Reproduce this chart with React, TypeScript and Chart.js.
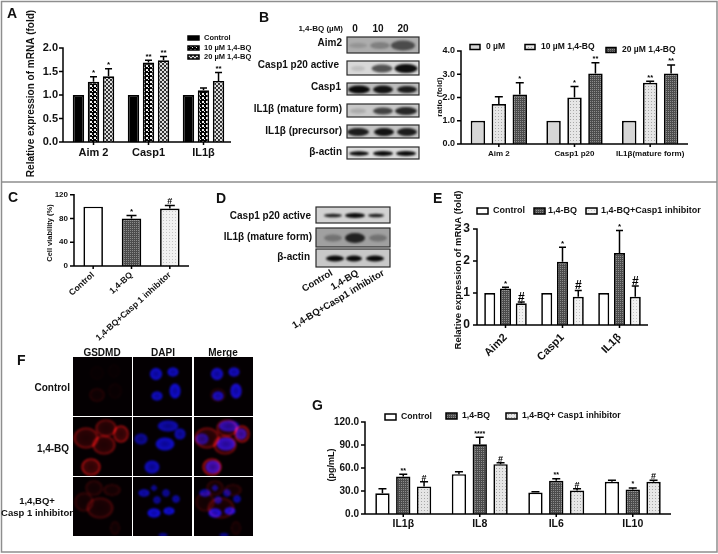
import React, { useEffect, useRef } from "react";
import { Chart, registerables } from "chart.js";
Chart.register(...registerables);

const FONT = "'Liberation Sans', Arial, sans-serif";

// Panel A
const aCategories = ["Aim 2", "Casp1", "IL1β"];
const aControl = [1, 1, 1];
const a10 = [1.28, 1.69, 1.1];
const a20 = [1.4, 1.74, 1.3];
const a10Top = [1.39, 1.74, 1.15];
const a20Top = [1.56, 1.82, 1.48];
const a10Marks = ["*", "**", ""];
const a20Marks = ["*", "**", "**"];

// Panel B chart
const bCategories = ["Aim 2", "Casp1 p20", "IL1β(mature form)"];
const b0 = [1, 1, 1];
const b10 = [1.72, 2.0, 2.63];
const b20 = [2.13, 3.03, 3.03];
const b10Top = [2.03, 2.47, 2.7];
const b20Top = [2.63, 3.5, 3.4];
const b10Marks = ["", "*", "**"];
const b20Marks = ["*", "**", "**"];

// Panel C
const cCategories = ["Control", "1,4-BQ", "1,4-BQ+Casp 1 inhibitor"];
const cValues = [100, 80, 97];
const cTops = [100, 85, 102];
const cMarks = ["", "*", "#"];

// Panel E
const eCategories = ["Aim2", "Casp1", "IL1β"];
const eControl = [1, 1, 1];
const eBQ = [1.14, 1.98, 2.25];
const eInh = [0.68, 0.88, 0.88];
const eBQTop = [1.18, 2.43, 2.95];
const eInhTop = [0.72, 1.08, 1.22];
const eBQMarks = ["*", "*", "*"];
const eInhMarks = ["#", "#", "#"];

// Panel G
const gCategories = ["IL1β", "IL8", "IL6", "IL10"];
const gControl = [27, 52, 28, 42];
const gBQ = [49, 91, 43.5, 32];
const gInh = [36, 65, 30.5, 42];
const gControlTop = [33, 55, 29, 44];
const gBQTop = [52, 100, 46, 34];
const gInhTop = [42, 67, 33, 44];
const gBQMarks = ["**", "****", "**", "*"];
const gInhMarks = ["#", "#", "#", "#"];

// Blots: box and bands [cx, width, height, darkness]
type Blot = { x: number; y: number; w: number; h: number; bg: string; bands: number[][] };
const blotsB: Blot[] = [
  { x: 347, y: 37, w: 72, h: 16, bg: "#adadad", bands: [[358, 18, 5, 0.15], [380, 20, 7, 0.28], [403, 24, 10, 0.6]] },
  { x: 347, y: 61, w: 72, h: 14, bg: "#d8d8d8", bands: [[358, 14, 5, 0.12], [382, 21, 8, 0.65], [406, 23, 9, 0.98]] },
  { x: 347, y: 83, w: 72, h: 12, bg: "#bdbdbd", bands: [[359, 22, 8, 1], [383, 20, 8, 0.95], [407, 20, 7, 0.9]] },
  { x: 347, y: 104, w: 72, h: 13, bg: "#c8c8c8", bands: [[358, 16, 5, 0.15], [383, 20, 7, 0.7], [406, 22, 8, 0.85]] },
  { x: 347, y: 125, w: 72, h: 13, bg: "#c4c4c4", bands: [[358, 22, 8, 0.9], [384, 20, 8, 0.95], [407, 20, 8, 0.9]] },
  { x: 347, y: 147, w: 72, h: 12, bg: "#dcdcdc", bands: [[359, 20, 4.5, 1], [383, 20, 5, 1], [406, 20, 5, 1]] },
];
const blotsD: Blot[] = [
  { x: 316, y: 207, w: 74, h: 16, bg: "#d2d2d2", bands: [[333, 18, 3.5, 0.9], [355, 20, 5, 1], [376, 16, 3.5, 0.9]] },
  { x: 316, y: 228, w: 74, h: 19, bg: "#a0a0a0", bands: [[333, 18, 7, 0.3], [355, 20, 10, 0.85], [378, 18, 7, 0.3]] },
  { x: 316, y: 249, w: 74, h: 18, bg: "#c8c8c8", bands: [[335, 18, 6, 1], [354, 16, 6, 1], [375, 18, 6, 1]] },
];

// Micrograph cells: [cx, cy, rx, ry, strength] inside a 59 px tile
const redCells = [
  [[24, 38, 8, 7, 0.22], [42, 34, 7, 8, 0.08], [41, 14, 6, 7, 0.05], [24, 16, 7, 7, 0.05]],
  [[13, 21, 13, 11, 0.6], [33, 11, 11, 9, 0.6], [48, 17, 8, 9, 0.9], [31, 28, 12, 10, 0.6], [18, 50, 10, 9, 0.9]],
  [[11, 25, 10, 10, 0.28], [21, 11, 9, 8, 0.28], [39, 13, 9, 6, 0.3], [27, 31, 14, 11, 0.35], [42, 51, 5, 7, 0.22]],
];
const blueCells = [
  [[23, 17, 6.5, 6.5, 0.85], [40, 15, 6, 5, 0.85], [42, 34, 6, 8, 0.9], [24, 39, 6, 5, 0.85]],
  [[35, 9, 11, 6, 0.75], [47, 17, 6, 6, 0.75], [8, 22, 7, 6, 0.65], [32, 27, 10, 7, 0.85], [19, 50, 8, 7, 0.8]],
  [[11, 16, 6, 4, 0.8], [21, 11, 3, 3, 0.7], [33, 16, 4, 4, 0.7], [43, 22, 4, 4, 0.75], [24, 23, 4, 4, 0.7], [21, 36, 7, 5, 0.95], [36, 34, 6, 4, 0.95], [30, 58, 5, 2, 0.7]],
];
const tileCols = [73, 133, 194];
const tileRows = [357, 417, 477];

function pattern(size: number, bg: string, fg: string, cells: number[][]) {
  const c = document.createElement("canvas");
  c.width = size;
  c.height = size;
  const x = c.getContext("2d")!;
  x.fillStyle = bg;
  x.fillRect(0, 0, size, size);
  x.fillStyle = fg;
  cells.forEach(([a, b, w, h]) => x.fillRect(a, b, w, h));
  return x.createPattern(c, "repeat")!;
}

const swatchPlugin = {
  id: "gp",
  afterDatasetsDraw(chart: any) {
    const o = chart.options.plugins.gp;
    const { ctx, chartArea, scales } = chart;
    const yS = scales.y;
    const xS = scales.x;
    const [L, T] = o.box;
    ctx.save();
    ctx.strokeStyle = "#000";
    ctx.fillStyle = "#000";
    ctx.lineWidth = 1.5;
    const ax = o.axisX - L;
    ctx.beginPath();
    ctx.moveTo(ax, yS.getPixelForValue(yS.max) - 0.7);
    ctx.lineTo(ax, chartArea.bottom + 0.7);
    ctx.moveTo(ax, chartArea.bottom);
    ctx.lineTo(chartArea.right, chartArea.bottom);
    yS.ticks.forEach((t: any) => {
      const py = yS.getPixelForValue(t.value);
      ctx.moveTo(ax - 4, py);
      ctx.lineTo(ax, py);
    });
    xS.ticks.forEach((_: any, i: number) => {
      const px = xS.getPixelForTick(i);
      ctx.moveTo(px, chartArea.bottom);
      ctx.lineTo(px, chartArea.bottom + 3);
    });
    ctx.stroke();
    // error bars and significance marks
    chart.data.datasets.forEach((ds: any, di: number) => {
      const meta = chart.getDatasetMeta(di);
      meta.data.forEach((bar: any, i: number) => {
        const topV = ds.tops ? ds.tops[i] : ds.data[i];
        const py = yS.getPixelForValue(topV);
        if (ds.tops && topV > ds.data[i]) {
          ctx.lineWidth = 1.5;
          ctx.beginPath();
          ctx.moveTo(bar.x, bar.y);
          ctx.lineTo(bar.x, py);
          ctx.moveTo(bar.x - o.cap, py);
          ctx.lineTo(bar.x + o.cap, py);
          ctx.stroke();
        }
        const m = ds.marks && ds.marks[i];
        if (m) {
          ctx.textAlign = "center";
          ctx.textBaseline = "alphabetic";
          if (m[0] === "#") {
            ctx.font = `bold ${o.hashSize}px ${FONT}`;
            ctx.fillText(m, bar.x, py - 1);
          } else {
            ctx.font = `bold ${o.starSize}px ${FONT}`;
            ctx.fillText(m, bar.x, py - 1.5);
          }
        }
      });
    });
    // y title
    ctx.save();
    ctx.translate(o.title.x - L, o.title.y - T);
    ctx.rotate(-Math.PI / 2);
    ctx.font = o.title.font;
    ctx.textAlign = "center";
    ctx.textBaseline = "middle";
    ctx.fillStyle = "#111";
    ctx.fillText(o.title.text, 0, 0);
    ctx.restore();
    // legend
    (o.legend || []).forEach((it: any, i: number) => {
      const ds = chart.data.datasets[i];
      ctx.fillStyle = ds.backgroundColor;
      ctx.strokeStyle = "#000";
      ctx.lineWidth = 1.5;
      const [sw, sh] = o.swatch;
      ctx.fillRect(it.x - L, it.y - T - sh / 2, sw, sh);
      ctx.strokeRect(it.x - L, it.y - T - sh / 2, sw, sh);
      ctx.fillStyle = "#111";
      ctx.font = o.legendFont;
      ctx.textAlign = "left";
      ctx.textBaseline = "middle";
      ctx.fillText(ds.label, it.tx - L, it.y - T);
    });
    ctx.restore();
  },
};

function makeChart(canvas: HTMLCanvasElement, s: any) {
  const [L, T, W, H] = s.box;
  const [pl, pt, pr, pb] = s.plot;
  canvas.width = W;
  canvas.height = H;
  return new Chart(canvas, {
    type: "bar",
    data: {
      labels: s.labels,
      datasets: s.datasets.map((d: any) => ({
        ...d,
        borderColor: "#000",
        borderWidth: 1.7,
        barPercentage: s.barPct,
        categoryPercentage: s.catPct,
      })),
    },
    plugins: [swatchPlugin],
    options: {
      responsive: false,
      animation: false,
      devicePixelRatio: 1,
      layout: { padding: { left: 0, top: pt - T, right: L + W - pr, bottom: 0 } },
      plugins: {
        legend: { display: false },
        tooltip: { enabled: false },
        gp: { box: s.box, axisX: s.axisX, cap: s.cap, starSize: s.starSize, hashSize: s.hashSize, title: s.title, legend: s.legend, legendFont: s.legendFont, swatch: s.swatch },
      } as any,
      scales: {
        x: {
          grid: { display: false, drawTicks: false },
          border: { display: false },
          ticks: {
            autoSkip: false,
            minRotation: s.xRot,
            maxRotation: s.xRot,
            padding: s.xPad,
            color: "#111",
            font: { family: FONT, weight: "bold", size: s.xSize },
          },
          afterFit: (sc: any) => {
            sc.height = T + H - pb;
          },
        },
        y: {
          min: 0,
          max: s.yMax,
          grid: { display: false, drawTicks: false },
          border: { display: false },
          ticks: {
            stepSize: s.yStep,
            padding: s.yPad,
            color: "#111",
            font: { family: FONT, weight: "bold", size: s.ySize },
            callback: (v: any) => Number(v).toFixed(s.yDec),
          },
          afterFit: (sc: any) => {
            sc.width = pl - L;
          },
        },
      },
    } as any,
  });
}

function drawBlot(ctx: CanvasRenderingContext2D, b: Blot) {
  ctx.save();
  ctx.beginPath();
  ctx.rect(b.x, b.y, b.w, b.h);
  ctx.clip();
  ctx.fillStyle = b.bg;
  ctx.fillRect(b.x, b.y, b.w, b.h);
  ctx.filter = "blur(1.1px)";
  b.bands.forEach(([cx, w, h, d]) => {
    ctx.fillStyle = `rgba(10,10,10,${d})`;
    ctx.beginPath();
    ctx.ellipse(cx, b.y + b.h / 2 + 0.5, w / 2, h / 2, 0, 0, Math.PI * 2);
    ctx.fill();
  });
  ctx.restore();
  ctx.strokeStyle = "#2a2a2a";
  ctx.lineWidth = 1.2;
  ctx.strokeRect(b.x, b.y, b.w, b.h);
}

function tile(ctx: CanvasRenderingContext2D, x: number, y: number, reds: number[][], blues: number[][]) {
  ctx.save();
  ctx.beginPath();
  ctx.rect(x, y, 59, 59);
  ctx.clip();
  ctx.fillStyle = "#040002";
  ctx.fillRect(x, y, 59, 59);
  ctx.globalCompositeOperation = "lighter";
  ctx.filter = "blur(0.8px)";
  reds.forEach(([cx, cy, rx, ry, s]) => {
    ctx.save();
    ctx.translate(x + cx, y + cy);
    ctx.scale(rx, ry);
    const g = ctx.createRadialGradient(0, 0, 0, 0, 0, 1);
    g.addColorStop(0, `rgba(150,10,10,${s * 0.3})`);
    g.addColorStop(0.72, `rgba(170,12,12,${s * 0.4})`);
    g.addColorStop(0.9, `rgba(235,20,20,${s})`);
    g.addColorStop(1, "rgba(200,0,0,0)");
    ctx.fillStyle = g;
    ctx.beginPath();
    ctx.arc(0, 0, 1, 0, Math.PI * 2);
    ctx.fill();
    ctx.restore();
  });
  blues.forEach(([cx, cy, rx, ry, s]) => {
    ctx.save();
    ctx.translate(x + cx, y + cy);
    ctx.scale(rx, ry);
    const g = ctx.createRadialGradient(0, 0, 0, 0, 0, 1);
    g.addColorStop(0, `rgba(8,8,190,${s * 0.85})`);
    g.addColorStop(0.85, `rgba(15,15,235,${s})`);
    g.addColorStop(1, "rgba(0,0,200,0.05)");
    ctx.fillStyle = g;
    ctx.beginPath();
    ctx.arc(0, 0, 1, 0, Math.PI * 2);
    ctx.fill();
    ctx.restore();
  });
  ctx.restore();
}

const labelStyle: React.CSSProperties = { position: "absolute", font: `bold 10px ${FONT}`, color: "#111", whiteSpace: "nowrap", lineHeight: "12px" };

function Right({ r, y, t, size = 10 }: { r: number; y: number; t: string; size?: number }) {
  return <span style={{ ...labelStyle, fontSize: size, right: 718 - r, top: y - 6 }}>{t}</span>;
}
function Center({ c, y, t, size = 10 }: { c: number; y: number; t: string; size?: number }) {
  return <span style={{ ...labelStyle, fontSize: size, left: c, top: y - 6, transform: "translateX(-50%)" }}>{t}</span>;
}
function Letter({ x, y, t }: { x: number; y: number; t: string }) {
  return <span style={{ ...labelStyle, fontSize: 14, left: x, top: y - 6 }}>{t}</span>;
}
function Rot({ r, y, t, size = 9.5 }: { r: number; y: number; t: string; size?: number }) {
  return (
    <span style={{ ...labelStyle, fontSize: size, right: 718 - r, top: y - 6, transformOrigin: "100% 50%", transform: "rotate(-31deg)" }}>{t}</span>
  );
}

export default function App() {
  const base = useRef<HTMLCanvasElement>(null);
  const refs = [useRef<HTMLCanvasElement>(null), useRef<HTMLCanvasElement>(null), useRef<HTMLCanvasElement>(null), useRef<HTMLCanvasElement>(null), useRef<HTMLCanvasElement>(null)];

  useEffect(() => {
    document.body.style.margin = "0";
    const ctx = base.current!.getContext("2d")!;
    ctx.fillStyle = "#fff";
    ctx.fillRect(0, 0, 718, 554);
    ctx.strokeStyle = "#8e8e8e";
    ctx.lineWidth = 1.5;
    ctx.strokeRect(1.5, 1.5, 715.5, 550.5);
    ctx.beginPath();
    ctx.moveTo(1, 182);
    ctx.lineTo(717, 182);
    ctx.stroke();
    blotsB.forEach((b) => drawBlot(ctx, b));
    blotsD.forEach((b) => drawBlot(ctx, b));
    tileRows.forEach((ty, r) => {
      tile(ctx, tileCols[0], ty, redCells[r], []);
      tile(ctx, tileCols[1], ty, [], blueCells[r]);
      tile(ctx, tileCols[2], ty, redCells[r], blueCells[r]);
    });

    const dotsBlack = pattern(4, "#000", "#eee", [[0, 0, 2, 2], [2, 2, 1, 1]]);
    const checkGrey = pattern(4, "#333", "#ddd", [[0, 0, 2, 2], [2, 2, 2, 2]]);
    const lightDots = pattern(3, "#e6e6e6", "#a8a8a8", [[0, 0, 1, 1]]);
    const darkCheck = pattern(2, "#4c4c4c", "#8c8c8c", [[0, 0, 1, 1]]);
    const paleDots = pattern(3, "#f1f1f1", "#c4c4c4", [[0, 0, 1, 1]]);

    const specs = [
      {
        box: [22, 5, 232, 172], plot: [66, 48, 231, 142], axisX: 63,
        labels: aCategories, barPct: 0.76, catPct: 0.82, cap: 3.5, starSize: 8, hashSize: 10,
        yMax: 2, yStep: 0.5, yDec: 1, ySize: 11, xSize: 11, xRot: 0, xPad: 4, yPad: 8,
        title: { text: "Relative expression of mRNA (fold)", x: 31, y: 93.5, font: `bold 10px ${FONT}` },
        legendFont: `bold 7.5px ${FONT}`, swatch: [11, 4],
        legend: [{ x: 188, y: 38, tx: 204 }, { x: 188, y: 48, tx: 204 }, { x: 188, y: 57, tx: 204 }],
        datasets: [
          { label: "Control", data: aControl, backgroundColor: "#000" },
          { label: "10 µM 1,4-BQ", data: a10, tops: a10Top, marks: a10Marks, backgroundColor: dotsBlack },
          { label: "20 µM 1,4-BQ", data: a20, tops: a20Top, marks: a20Marks, backgroundColor: checkGrey },
        ],
      },
      {
        box: [432, 35, 280, 125], plot: [461, 51, 688, 144], axisX: 461,
        labels: bCategories, barPct: 0.69, catPct: 0.83, cap: 4, starSize: 7.5, hashSize: 9,
        yMax: 4, yStep: 1, yDec: 1, ySize: 9, xSize: 8, xRot: 0, xPad: 5, yPad: 6,
        title: { text: "ratio (fold)", x: 440, y: 97, font: `bold 8px ${FONT}` },
        legendFont: `bold 8.5px ${FONT}`, swatch: [10, 5],
        legend: [{ x: 470, y: 47, tx: 486 }, { x: 525, y: 47, tx: 541 }, { x: 606, y: 50, tx: 622 }],
        datasets: [
          { label: "0 µM", data: b0, backgroundColor: "#d6d6d6" },
          { label: "10 µM 1,4-BQ", data: b10, tops: b10Top, marks: b10Marks, backgroundColor: lightDots },
          { label: "20 µM 1,4-BQ", data: b20, tops: b20Top, marks: b20Marks, backgroundColor: darkCheck },
        ],
      },
      {
        box: [40, 184, 165, 160], plot: [74, 191, 189, 266], axisX: 74,
        labels: cCategories, barPct: 0.51, catPct: 1, cap: 5, starSize: 8, hashSize: 9,
        yMax: 120, yStep: 40, yDec: 0, ySize: 8, xSize: 8.6, xRot: 42, xPad: 4, yPad: 6,
        title: { text: "Cell viability (%)", x: 50, y: 233, font: `bold 7.5px ${FONT}` },
        legend: [], swatch: [0, 0],
        datasets: [
          {
            label: "Cell viability", data: cValues, tops: cTops, marks: cMarks,
            backgroundColor: ["#fff", darkCheck, paleDots],
          },
        ],
      },
      {
        box: [450, 186, 262, 175], plot: [477, 229, 648, 325], axisX: 477,
        labels: eCategories, barPct: 0.7, catPct: 0.83, cap: 3.5, starSize: 8, hashSize: 12,
        yMax: 3, yStep: 1, yDec: 0, ySize: 12, xSize: 11, xRot: 45, xPad: 6, yPad: 7,
        title: { text: "Relative expression of mRNA (fold)", x: 458, y: 270, font: `bold 9.5px ${FONT}` },
        legendFont: `bold 9px ${FONT}`, swatch: [11, 6],
        legend: [{ x: 477, y: 211, tx: 493 }, { x: 534, y: 211, tx: 548 }, { x: 586, y: 211, tx: 601 }],
        datasets: [
          { label: "Control", data: eControl, backgroundColor: "#fff" },
          { label: "1,4-BQ", data: eBQ, tops: eBQTop, marks: eBQMarks, backgroundColor: darkCheck },
          { label: "1,4-BQ+Casp1 inhibitor", data: eInh, tops: eInhTop, marks: eInhMarks, backgroundColor: paleDots },
        ],
      },
      {
        box: [325, 405, 360, 130], plot: [365, 422, 671, 514], axisX: 365,
        labels: gCategories, barPct: 0.69, catPct: 0.816, cap: 4, starSize: 7, hashSize: 9,
        yMax: 120, yStep: 30, yDec: 1, ySize: 10, xSize: 10.5, xRot: 0, xPad: 4, yPad: 6,
        title: { text: "(pg/mL)", x: 332, y: 465, font: `bold 9px ${FONT}` },
        legendFont: `bold 8.7px ${FONT}`, swatch: [11, 6],
        legend: [{ x: 385, y: 417, tx: 401 }, { x: 446, y: 416, tx: 462 }, { x: 506, y: 416, tx: 522 }],
        datasets: [
          { label: "Control", data: gControl, tops: gControlTop, backgroundColor: "#fff" },
          { label: "1,4-BQ", data: gBQ, tops: gBQTop, marks: gBQMarks, backgroundColor: darkCheck },
          { label: "1,4-BQ+ Casp1 inhibitor", data: gInh, tops: gInhTop, marks: gInhMarks, backgroundColor: lightDots },
        ],
      },
    ];
    const charts = specs.map((s, i) => {
      const el = refs[i].current!;
      el.style.left = s.box[0] + "px";
      el.style.top = s.box[1] + "px";
      return makeChart(el, s);
    });
    return () => charts.forEach((c) => c.destroy());
  }, []);

  return (
    <div style={{ position: "absolute", left: 0, top: 0, width: 718, height: 554, overflow: "hidden", background: "#fff", filter: "blur(0.35px)" }}>
      <canvas ref={base} width={718} height={554} style={{ position: "absolute", left: 0, top: 0 }} />
      {refs.map((r, i) => (
        <canvas key={i} ref={r} style={{ position: "absolute", display: "block" }} />
      ))}
      <Letter x={7} y={13} t="A" />
      <Letter x={259} y={17} t="B" />
      <Letter x={8} y={197} t="C" />
      <Letter x={216} y={198} t="D" />
      <Letter x={433} y={198} t="E" />
      <Letter x={17} y={360} t="F" />
      <Letter x={312} y={405} t="G" />

      <Right r={343} y={29} t="1,4-BQ (µM)" size={8} />
      <Center c={355} y={29} t="0" />
      <Center c={378} y={29} t="10" />
      <Center c={403} y={29} t="20" />
      <Right r={342} y={43} t="Aim2" />
      <Right r={339} y={65} t="Casp1 p20 active" />
      <Right r={341} y={87} t="Casp1" />
      <Right r={342} y={109} t="IL1β (mature form)" />
      <Right r={342} y={131} t="IL1β (precursor)" />
      <Right r={342} y={152} t="β-actin" />

      <Right r={311} y={216} t="Casp1 p20 active" />
      <Right r={312} y={237} t="IL1β (mature form)" />
      <Right r={310} y={257} t="β-actin" />
      <Rot r={332} y={272} t="Control" />
      <Rot r={358} y={272} t="1,4-BQ" />
      <Rot r={383} y={272} t="1,4-BQ+Casp1 inhibitor" />

      <Center c={102} y={353} t="GSDMD" />
      <Center c={163} y={353} t="DAPI" />
      <Center c={223} y={353} t="Merge" />
      <Right r={70} y={388} t="Control" />
      <Center c={53} y={449} t="1,4-BQ" />
      <Center c={37} y={501} t="1,4,BQ+" size={9.5} />
      <Center c={37} y={513} t="Casp 1 inhibitor" size={9.5} />
    </div>
  );
}
